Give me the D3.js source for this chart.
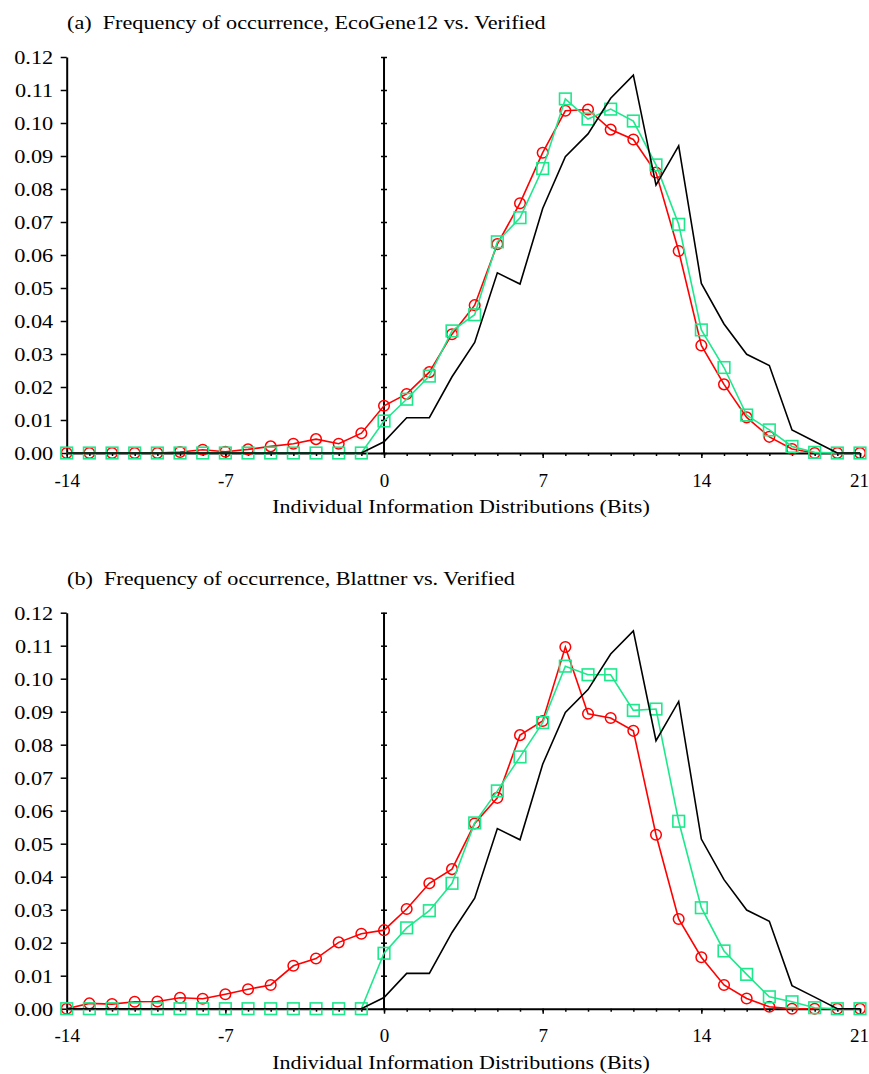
<!DOCTYPE html>
<html>
<head>
<meta charset="utf-8">
<script src="https://cdn.jsdelivr.net/npm/d3@7"></script>
<style>
body { margin: 0; background: #fff; }
svg text { font-family: "Liberation Serif", "Times New Roman", serif; fill: #000; }
.wide-l { transform: scaleX(1.17); transform-box: fill-box; transform-origin: 0% 50%; }
.wide-c { transform: scaleX(1.16); transform-box: fill-box; transform-origin: 50% 50%; }
.wide-t { transform: scaleX(1.06); transform-box: fill-box; transform-origin: 50% 50%; }
.wide-r { transform: scaleX(1.24); transform-box: fill-box; transform-origin: 100% 50%; }
</style>
</head>
<body>
<svg id="chart" width="869" height="1074"></svg>
<script>
// bins of individual information, -14 .. 21 bits
var bits = d3.range(-14, 22);
var yTicks = d3.range(0, 13).map(function(d) { return d / 100; });
var xLabels = [-14, -7, 0, 7, 14, 21];
var titles = ["(a)  Frequency of occurrence, EcoGene12 vs. Verified",
              "(b)  Frequency of occurrence, Blattner vs. Verified"];
var xTitle = "Individual Information Distributions (Bits)";

// black line, same in both panels
var verified = [0,0,0,0,0,0,0,0,0,0,0,0,0,0,
  0.0034,0.0107,0.0107,0.0231,0.0335,0.0546,0.0512,0.0741,0.0898,0.0967,0.1075,
  0.1145,0.0812,0.0931,0.0514,0.0391,0.0299,0.0265,0.007,0.0035,0,0];

// panel (a)
var redA = [0,0,0,0,0,0.0003,0.001,0.0004,0.0011,0.002,0.0028,0.0042,0.0028,0.006,
  0.0143,0.0179,0.0245,0.036,0.0448,0.0633,0.0757,0.091,0.1037,0.1041,0.098,
  0.095,0.085,0.0612,0.0326,0.0208,0.0108,0.0049,0.0012,0,0,0];
var greenA = [0,0,0,0,0,0,0,0,0,0,0,0,0,0,
  0.0097,0.0163,0.0233,0.037,0.0419,0.064,0.0713,0.0862,0.1073,0.1012,0.1042,
  0.1006,0.0873,0.0693,0.0373,0.0259,0.0115,0.007,0.002,0.0002,0,0];

// panel (b)
var redB = [0,0.0016,0.0014,0.0021,0.0022,0.0033,0.003,0.0044,0.0059,0.0072,0.013,0.0152,0.0201,0.0227,
  0.0238,0.0302,0.038,0.0423,0.0561,0.0639,0.0829,0.0872,0.1096,0.0894,0.0881,
  0.0842,0.0527,0.0272,0.0156,0.0072,0.0031,0.0006,0,0,0,0];
var greenB = [0,0,0,0,0,0,0,0,0,0,0,0,0,0,
  0.0168,0.0245,0.0297,0.038,0.0563,0.066,0.0763,0.0867,0.1038,0.1012,0.1012,
  0.0904,0.0908,0.0568,0.0306,0.0175,0.0104,0.0036,0.0021,0.0003,0,0];

var red = "#ff0000", green = "#1ee88c";

var svg = d3.select("#chart");
var x = d3.scaleLinear().domain([-14, 21]).range([66.7, 860]);

function panel(top, title, redVals, greenVals) {
  var g = svg.append("g").attr("transform", "translate(0," + top + ")");
  var y = d3.scaleLinear().domain([0, 0.12]).range([453, 57]);

  g.append("text")
    .attr("class", "wide-l")
    .attr("x", 67).attr("y", 29)
    .style("font-size", "19px")
    .style("white-space", "pre")
    .text(title);

  // left y axis
  var ya = g.append("g")
    .attr("transform", "translate(" + x(-14) + ",0)")
    .call(d3.axisLeft(y).tickValues(yTicks).tickFormat(d3.format(".2f"))
      .tickSize(6).tickSizeOuter(0).tickPadding(7.5));
  ya.select(".domain").attr("stroke-width", 2);
  ya.selectAll("line").attr("stroke-width", 1.5);
  ya.selectAll("text").attr("class", "wide-r").attr("dy", "0.36em")
    .style("font-size", "18px");

  // vertical line at zero bits
  var za = g.append("g")
    .attr("transform", "translate(" + (x(0) - 3) + ",0)")
    .call(d3.axisRight(y).tickValues(yTicks).tickSize(6).tickSizeOuter(0).tickFormat(""));
  za.select(".domain").remove();
  za.selectAll("line").attr("stroke-width", 1.5);
  g.append("line")
    .attr("x1", x(0)).attr("x2", x(0))
    .attr("y1", y(0.12)).attr("y2", y(0))
    .attr("stroke", "#000").attr("stroke-width", 2);

  // x axis: minor ticks every bit, labels every 7
  var xm = g.append("g")
    .attr("transform", "translate(0," + y(0) + ")")
    .call(d3.axisBottom(x).tickValues(bits).tickSize(3).tickSizeOuter(0).tickFormat(""));
  xm.select(".domain").attr("stroke-width", 2);
  xm.selectAll("line").attr("stroke-width", 1.5);
  var xa = g.append("g")
    .attr("transform", "translate(0," + y(0) + ")")
    .call(d3.axisBottom(x).tickValues(xLabels).tickSize(5).tickSizeOuter(0)
      .tickPadding(16).tickFormat(function(d) { return String(d); }));
  xa.select(".domain").remove();
  xa.selectAll("line").attr("stroke-width", 1.5);
  xa.selectAll("text").attr("class", "wide-t").style("font-size", "18px");
  xa.selectAll("text").filter(function(d) { return d === 21; })
    .attr("text-anchor", "end").attr("x", 869 - x(21) - 1);

  g.append("text")
    .attr("class", "wide-c")
    .attr("x", 461).attr("y", 513)
    .attr("text-anchor", "middle")
    .style("font-size", "19px")
    .text(xTitle);

  var line = d3.line()
    .x(function(d, i) { return x(bits[i]); })
    .y(function(d) { return y(d); });

  g.append("path").datum(redVals)
    .attr("d", line).attr("fill", "none")
    .attr("stroke", red).attr("stroke-width", 1.6);
  g.selectAll(".dot").data(redVals).enter().append("circle")
    .attr("class", "dot")
    .attr("cx", function(d, i) { return x(bits[i]); })
    .attr("cy", function(d) { return y(d); })
    .attr("r", 5.3)
    .attr("fill", "none").attr("stroke", red).attr("stroke-width", 1.5);

  g.append("path").datum(greenVals)
    .attr("d", line).attr("fill", "none")
    .attr("stroke", green).attr("stroke-width", 1.6);
  g.selectAll(".sq").data(greenVals).enter().append("rect")
    .attr("class", "sq")
    .attr("x", function(d, i) { return x(bits[i]) - 5.8; })
    .attr("y", function(d) { return y(d) - 5.8; })
    .attr("width", 11.6).attr("height", 11.6)
    .attr("fill", "none").attr("stroke", green).attr("stroke-width", 1.6);

  g.append("path").datum(verified)
    .attr("d", line).attr("fill", "none")
    .attr("stroke", "#000").attr("stroke-width", 1.6);
}

panel(0, titles[0], redA, greenA);
panel(555.7, titles[1], redB, greenB);
</script>
</body>
</html>
